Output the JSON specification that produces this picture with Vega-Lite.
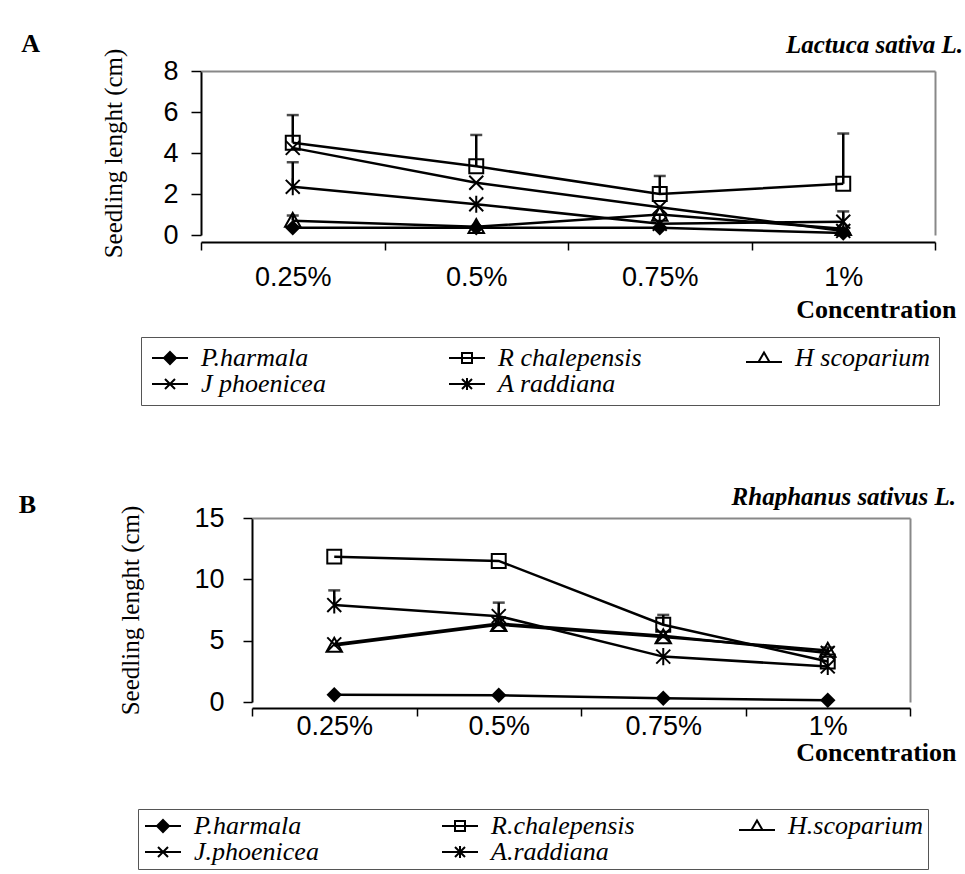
{
  "$schema": "https://vega.github.io/schema/vega-lite/v6.json",
  "background": "white",
  "padding": {"left": 18, "top": 31, "right": 5, "bottom": 5},
  "spacing": 79,
  "resolve": {"scale": {"shape": "independent", "y": "independent", "x": "independent"}, "legend": {"shape": "independent"}},
  "config": {
    "view": {"stroke": null},
    "axis": {"domainColor": "black", "domainWidth": 2, "tickColor": "black", "tickWidth": 1.5, "grid": false, "labelFont": "Liberation Sans", "labelColor": "black", "titleFont": "Liberation Serif", "titleColor": "black", "titleFontWeight": "normal"},
    "title": {"font": "Liberation Serif", "fontStyle": "italic", "fontWeight": "bold", "fontSize": 25, "color": "black", "anchor": "end", "frame": "bounds"},
    "point": {"strokeWidth": 2, "size": 240, "opacity": 1, "color": "black"}
  },
  "vconcat": [
    {
      "data": {"values": [
        {"p": "A", "c": "0.25%", "s": "P.harmala", "v": 0.35},
        {"p": "A", "c": "0.5%", "s": "P.harmala", "v": 0.35},
        {"p": "A", "c": "0.75%", "s": "P.harmala", "v": 0.35},
        {"p": "A", "c": "1%", "s": "P.harmala", "v": 0.1},
        {"p": "A", "c": "0.25%", "s": "R chalepensis", "v": 4.5, "u": 5.85},
        {"p": "A", "c": "0.5%", "s": "R chalepensis", "v": 3.35, "u": 4.88},
        {"p": "A", "c": "0.75%", "s": "R chalepensis", "v": 2.0, "u": 2.88},
        {"p": "A", "c": "1%", "s": "R chalepensis", "v": 2.5, "u": 4.95},
        {"p": "A", "c": "0.25%", "s": "H scoparium", "v": 0.7, "u": 0.95},
        {"p": "A", "c": "0.5%", "s": "H scoparium", "v": 0.4},
        {"p": "A", "c": "0.75%", "s": "H scoparium", "v": 1.0},
        {"p": "A", "c": "1%", "s": "H scoparium", "v": 0.3},
        {"p": "A", "c": "0.25%", "s": "J phoenicea", "v": 4.25},
        {"p": "A", "c": "0.5%", "s": "J phoenicea", "v": 2.55},
        {"p": "A", "c": "0.75%", "s": "J phoenicea", "v": 1.35},
        {"p": "A", "c": "1%", "s": "J phoenicea", "v": 0.2},
        {"p": "A", "c": "0.25%", "s": "A raddiana", "v": 2.35, "u": 3.55},
        {"p": "A", "c": "0.5%", "s": "A raddiana", "v": 1.5},
        {"p": "A", "c": "0.75%", "s": "A raddiana", "v": 0.55},
        {"p": "A", "c": "1%", "s": "A raddiana", "v": 0.65, "u": 1.15}
      ]},
      "title": {"text": "Lactuca sativa L.", "dx": -23, "offset": -27},
      "facet": {"row": {"field": "p", "type": "nominal", "header": {"title": null, "labelAngle": 0, "labelOrient": "left", "labelAnchor": "end", "labelAlign": "left", "labelBaseline": "line-bottom", "labelLineHeight": 54, "labelFont": "Liberation Serif", "labelFontWeight": "bold", "labelFontSize": 26, "labelColor": "black", "labelPadding": 62}}},
      "spec": {
        "width": 683,
        "height": 164,
        "resolve": {"axis": {"x": "independent", "y": "independent"}},
        "layer": [
          {"mark": {"type": "line", "color": "black", "strokeWidth": 2.5},
           "encoding": {
             "x": {"field": "c", "type": "ordinal", "sort": ["0.25%", "0.5%", "0.75%", "1%"], "scale": {"type": "band", "paddingInner": 0, "paddingOuter": 0, "range": [-51, 683]},
               "axis": {"orient": "bottom", "title": "Concentration", "titleFont": "Liberation Serif", "titleFontWeight": "bold", "titleFontSize": 26, "titleAlign": "right", "titleAnchor": "end", "titleX": 704, "titlePadding": 6, "labelFontSize": 27, "labelAngle": 0, "labelPadding": 14, "tickSize": 8, "tickBand": "extent"}},
             "y": {"field": "v", "type": "quantitative", "scale": {"domain": [0, 8], "nice": false},
               "axis": {"orient": "left", "offset": 51, "title": "Seedling lenght (cm)", "titleFontSize": 25, "titlePadding": 36, "labelFontSize": 27, "tickSize": 10, "labelPadding": 13, "values": [0, 2, 4, 6, 8]}},
             "detail": {"field": "s"}}},
          {"mark": {"type": "line", "opacity": 0},
           "encoding": {
             "x": {"field": "c", "type": "ordinal", "sort": ["0.25%", "0.5%", "0.75%", "1%"], "scale": {"type": "band", "paddingInner": 0, "paddingOuter": 0, "range": [-51, 683]}, "axis": {"orient": "top", "domainColor": "#888", "domainWidth": 2, "ticks": false, "labels": false, "title": null}},
             "y": {"field": "v", "type": "quantitative", "axis": {"orient": "right", "domainColor": "#888", "domainWidth": 2, "ticks": false, "labels": false, "title": null}},
             "detail": {"field": "s"}}},
          {"transform": [{"filter": "datum.u != null"}],
           "mark": {"type": "rule", "color": "black", "strokeWidth": 2.5},
           "encoding": {
             "x": {"field": "c", "type": "ordinal", "sort": ["0.25%", "0.5%", "0.75%", "1%"], "scale": {"type": "band", "paddingInner": 0, "paddingOuter": 0, "range": [-51, 683]}, "axis": null},
             "y": {"field": "v", "type": "quantitative", "axis": null}, "y2": {"field": "u"}}},
          {"transform": [{"filter": "datum.u != null"}],
           "mark": {"type": "tick", "color": "black", "orient": "horizontal", "size": 12, "thickness": 2.5},
           "encoding": {
             "x": {"field": "c", "type": "ordinal", "sort": ["0.25%", "0.5%", "0.75%", "1%"], "scale": {"type": "band", "paddingInner": 0, "paddingOuter": 0, "range": [-51, 683]}, "axis": null},
             "y": {"field": "u", "type": "quantitative", "axis": null}}},
          {"transform": [{"filter": "datum.s === 'P.harmala'"}],
           "mark": {"type": "point", "filled": true, "shape": "M0,-1L1,0L0,1L-1,0Z"},
           "encoding": {
             "x": {"field": "c", "type": "ordinal", "sort": ["0.25%", "0.5%", "0.75%", "1%"], "scale": {"type": "band", "paddingInner": 0, "paddingOuter": 0, "range": [-51, 683]}, "axis": null},
             "y": {"field": "v", "type": "quantitative", "axis": null}}},
          {"transform": [{"filter": "datum.s === 'R chalepensis'"}],
           "mark": {"type": "point", "filled": false, "shape": "M-0.9,-0.9H0.9V0.9H-0.9Z"},
           "encoding": {
             "x": {"field": "c", "type": "ordinal", "sort": ["0.25%", "0.5%", "0.75%", "1%"], "scale": {"type": "band", "paddingInner": 0, "paddingOuter": 0, "range": [-51, 683]}, "axis": null},
             "y": {"field": "v", "type": "quantitative", "axis": null}}},
          {"transform": [{"filter": "datum.s === 'H scoparium'"}],
           "mark": {"type": "point", "filled": false, "shape": "M0,-1L1,0.8H-1Z"},
           "encoding": {
             "x": {"field": "c", "type": "ordinal", "sort": ["0.25%", "0.5%", "0.75%", "1%"], "scale": {"type": "band", "paddingInner": 0, "paddingOuter": 0, "range": [-51, 683]}, "axis": null},
             "y": {"field": "v", "type": "quantitative", "axis": null}}},
          {"transform": [{"filter": "datum.s === 'J phoenicea'"}],
           "mark": {"type": "point", "filled": false, "shape": "M-0.9,-0.9L0.9,0.9M-0.9,0.9L0.9,-0.9"},
           "encoding": {
             "x": {"field": "c", "type": "ordinal", "sort": ["0.25%", "0.5%", "0.75%", "1%"], "scale": {"type": "band", "paddingInner": 0, "paddingOuter": 0, "range": [-51, 683]}, "axis": null},
             "y": {"field": "v", "type": "quantitative", "axis": null}}},
          {"transform": [{"filter": "datum.s === 'A raddiana'"}],
           "mark": {"type": "point", "filled": false, "shape": "M-0.9,-0.9L0.9,0.9M-0.9,0.9L0.9,-0.9M0,-1.1V1.1"},
           "encoding": {
             "x": {"field": "c", "type": "ordinal", "sort": ["0.25%", "0.5%", "0.75%", "1%"], "scale": {"type": "band", "paddingInner": 0, "paddingOuter": 0, "range": [-51, 683]}, "axis": null},
             "y": {"field": "v", "type": "quantitative", "axis": null}}},
          {"mark": {"type": "point", "filled": false, "opacity": 0},
           "encoding": {
             "x": {"field": "c", "type": "ordinal", "sort": ["0.25%", "0.5%", "0.75%", "1%"], "scale": {"type": "band", "paddingInner": 0, "paddingOuter": 0, "range": [-51, 683]}, "axis": null},
             "y": {"field": "v", "type": "quantitative", "axis": null},
             "shape": {"field": "s", "type": "nominal",
               "scale": {"domain": ["P.harmala", "R chalepensis", "H scoparium", "J phoenicea", "A raddiana"],
                 "range": ["M-1.8,0H1.8M0,-0.6L0.6,0L0,0.6L-0.6,0ZM0,-0.4L0.4,0L0,0.4L-0.4,0ZM0,-0.2L0.2,0L0,0.2L-0.2,0Z", "M-1.8,0H1.8M-0.5,-0.5H0.5V0.5H-0.5Z", "M-1.8,0.4H1.8M0,-0.55L0.55,0.4H-0.55Z", "M-1.8,0H1.8M-0.5,-0.5L0.5,0.5M-0.5,0.5L0.5,-0.5", "M-1.8,0H1.8M-0.5,-0.5L0.5,0.5M-0.5,0.5L0.5,-0.5M0,-0.6V0.6"]},
               "legend": {"orient": "none", "legendX": -111, "legendY": 266, "direction": "horizontal", "columns": 3, "title": null,
                 "symbolSize": 400, "symbolStrokeWidth": 2, "symbolStrokeColor": "black", "symbolFillColor": "transparent", "symbolOffset": 8, "symbolOpacity": 1,
                 "labelFont": "Liberation Serif", "labelFontStyle": "italic", "labelFontSize": 26, "labelColor": "black", "labelOffset": 18,
                 "strokeColor": "#555", "fillColor": "white", "padding": 8, "columnPadding": 100, "rowPadding": 0, "gridAlign": "all"}}
           }}
        ]
      }
    },
    {
      "data": {"values": [
        {"p": "B", "c": "0.25%", "s": "P.harmala", "v": 0.6},
        {"p": "B", "c": "0.5%", "s": "P.harmala", "v": 0.55},
        {"p": "B", "c": "0.75%", "s": "P.harmala", "v": 0.3},
        {"p": "B", "c": "1%", "s": "P.harmala", "v": 0.15},
        {"p": "B", "c": "0.25%", "s": "R.chalepensis", "v": 11.85},
        {"p": "B", "c": "0.5%", "s": "R.chalepensis", "v": 11.5},
        {"p": "B", "c": "0.75%", "s": "R.chalepensis", "v": 6.3, "u": 7.1},
        {"p": "B", "c": "1%", "s": "R.chalepensis", "v": 3.3},
        {"p": "B", "c": "0.25%", "s": "H.scoparium", "v": 4.6},
        {"p": "B", "c": "0.5%", "s": "H.scoparium", "v": 6.3},
        {"p": "B", "c": "0.75%", "s": "H.scoparium", "v": 5.3},
        {"p": "B", "c": "1%", "s": "H.scoparium", "v": 4.2},
        {"p": "B", "c": "0.25%", "s": "J.phoenicea", "v": 4.7},
        {"p": "B", "c": "0.5%", "s": "J.phoenicea", "v": 6.4},
        {"p": "B", "c": "0.75%", "s": "J.phoenicea", "v": 5.4},
        {"p": "B", "c": "1%", "s": "J.phoenicea", "v": 4.0, "u": 4.45},
        {"p": "B", "c": "0.25%", "s": "A.raddiana", "v": 7.9, "u": 9.1},
        {"p": "B", "c": "0.5%", "s": "A.raddiana", "v": 7.0, "u": 8.1},
        {"p": "B", "c": "0.75%", "s": "A.raddiana", "v": 3.7},
        {"p": "B", "c": "1%", "s": "A.raddiana", "v": 2.9}
      ]},
      "title": {"text": "Rhaphanus sativus L.", "offset": -18},
      "facet": {"row": {"field": "p", "type": "nominal", "header": {"title": null, "labelAngle": 0, "labelOrient": "left", "labelAnchor": "end", "labelAlign": "left", "labelBaseline": "bottom", "labelFont": "Liberation Serif", "labelFontWeight": "bold", "labelFontSize": 26, "labelColor": "black", "labelPadding": 83}}},
      "spec": {
        "width": 658,
        "height": 184,
        "resolve": {"axis": {"x": "independent", "y": "independent"}},
        "layer": [
          {"mark": {"type": "line", "color": "black", "strokeWidth": 2.5},
           "encoding": {
             "x": {"field": "c", "type": "ordinal", "sort": ["0.25%", "0.5%", "0.75%", "1%"], "scale": {"type": "band", "paddingInner": 0, "paddingOuter": 0},
               "axis": {"orient": "bottom", "title": "Concentration", "titleFont": "Liberation Serif", "titleFontWeight": "bold", "titleFontSize": 26, "titleAlign": "right", "titleAnchor": "end", "titleX": 704, "titlePadding": 0, "labelFontSize": 27, "labelAngle": 0, "labelPadding": -3, "tickSize": 8, "tickBand": "extent"}},
             "y": {"field": "v", "type": "quantitative", "scale": {"domain": [0, 15], "nice": false},
               "axis": {"orient": "left", "title": "Seedling lenght (cm)", "titleFontSize": 25, "titlePadding": 50, "labelFontSize": 27, "tickSize": 9, "labelPadding": 19, "values": [0, 5, 10, 15]}},
             "detail": {"field": "s"}}},
          {"mark": {"type": "line", "opacity": 0},
           "encoding": {
             "x": {"field": "c", "type": "ordinal", "sort": ["0.25%", "0.5%", "0.75%", "1%"], "scale": {"type": "band", "paddingInner": 0, "paddingOuter": 0}, "axis": {"orient": "top", "domainColor": "#888", "domainWidth": 2, "ticks": false, "labels": false, "title": null}},
             "y": {"field": "v", "type": "quantitative", "axis": {"orient": "right", "domainColor": "#888", "domainWidth": 2, "ticks": false, "labels": false, "title": null}},
             "detail": {"field": "s"}}},
          {"transform": [{"filter": "datum.u != null"}],
           "mark": {"type": "rule", "color": "black", "strokeWidth": 2.5},
           "encoding": {
             "x": {"field": "c", "type": "ordinal", "sort": ["0.25%", "0.5%", "0.75%", "1%"], "scale": {"type": "band", "paddingInner": 0, "paddingOuter": 0}, "axis": null},
             "y": {"field": "v", "type": "quantitative", "axis": null}, "y2": {"field": "u"}}},
          {"transform": [{"filter": "datum.u != null"}],
           "mark": {"type": "tick", "color": "black", "orient": "horizontal", "size": 12, "thickness": 2.5},
           "encoding": {
             "x": {"field": "c", "type": "ordinal", "sort": ["0.25%", "0.5%", "0.75%", "1%"], "scale": {"type": "band", "paddingInner": 0, "paddingOuter": 0}, "axis": null},
             "y": {"field": "u", "type": "quantitative", "axis": null}}},
          {"transform": [{"filter": "datum.s === 'P.harmala'"}],
           "mark": {"type": "point", "filled": true, "shape": "M0,-1L1,0L0,1L-1,0Z"},
           "encoding": {
             "x": {"field": "c", "type": "ordinal", "sort": ["0.25%", "0.5%", "0.75%", "1%"], "scale": {"type": "band", "paddingInner": 0, "paddingOuter": 0}, "axis": null},
             "y": {"field": "v", "type": "quantitative", "axis": null}}},
          {"transform": [{"filter": "datum.s === 'R.chalepensis'"}],
           "mark": {"type": "point", "filled": false, "shape": "M-0.9,-0.9H0.9V0.9H-0.9Z"},
           "encoding": {
             "x": {"field": "c", "type": "ordinal", "sort": ["0.25%", "0.5%", "0.75%", "1%"], "scale": {"type": "band", "paddingInner": 0, "paddingOuter": 0}, "axis": null},
             "y": {"field": "v", "type": "quantitative", "axis": null}}},
          {"transform": [{"filter": "datum.s === 'H.scoparium'"}],
           "mark": {"type": "point", "filled": false, "shape": "M0,-1L1,0.8H-1Z"},
           "encoding": {
             "x": {"field": "c", "type": "ordinal", "sort": ["0.25%", "0.5%", "0.75%", "1%"], "scale": {"type": "band", "paddingInner": 0, "paddingOuter": 0}, "axis": null},
             "y": {"field": "v", "type": "quantitative", "axis": null}}},
          {"transform": [{"filter": "datum.s === 'J.phoenicea'"}],
           "mark": {"type": "point", "filled": false, "shape": "M-0.9,-0.9L0.9,0.9M-0.9,0.9L0.9,-0.9"},
           "encoding": {
             "x": {"field": "c", "type": "ordinal", "sort": ["0.25%", "0.5%", "0.75%", "1%"], "scale": {"type": "band", "paddingInner": 0, "paddingOuter": 0}, "axis": null},
             "y": {"field": "v", "type": "quantitative", "axis": null}}},
          {"transform": [{"filter": "datum.s === 'A.raddiana'"}],
           "mark": {"type": "point", "filled": false, "shape": "M-0.9,-0.9L0.9,0.9M-0.9,0.9L0.9,-0.9M0,-1.1V1.1"},
           "encoding": {
             "x": {"field": "c", "type": "ordinal", "sort": ["0.25%", "0.5%", "0.75%", "1%"], "scale": {"type": "band", "paddingInner": 0, "paddingOuter": 0}, "axis": null},
             "y": {"field": "v", "type": "quantitative", "axis": null}}},
          {"mark": {"type": "point", "filled": false, "opacity": 0},
           "encoding": {
             "x": {"field": "c", "type": "ordinal", "sort": ["0.25%", "0.5%", "0.75%", "1%"], "scale": {"type": "band", "paddingInner": 0, "paddingOuter": 0}, "axis": null},
             "y": {"field": "v", "type": "quantitative", "axis": null},
             "shape": {"field": "s", "type": "nominal",
               "scale": {"domain": ["P.harmala", "R.chalepensis", "H.scoparium", "J.phoenicea", "A.raddiana"],
                 "range": ["M-1.8,0H1.8M0,-0.6L0.6,0L0,0.6L-0.6,0ZM0,-0.4L0.4,0L0,0.4L-0.4,0ZM0,-0.2L0.2,0L0,0.2L-0.2,0Z", "M-1.8,0H1.8M-0.5,-0.5H0.5V0.5H-0.5Z", "M-1.8,0.4H1.8M0,-0.55L0.55,0.4H-0.55Z", "M-1.8,0H1.8M-0.5,-0.5L0.5,0.5M-0.5,0.5L0.5,-0.5", "M-1.8,0H1.8M-0.5,-0.5L0.5,0.5M-0.5,0.5L0.5,-0.5M0,-0.6V0.6"]},
               "legend": {"orient": "none", "legendX": -114, "legendY": 291, "direction": "horizontal", "columns": 3, "title": null,
                 "symbolSize": 400, "symbolStrokeWidth": 2, "symbolStrokeColor": "black", "symbolFillColor": "transparent", "symbolOffset": 8, "symbolOpacity": 1,
                 "labelFont": "Liberation Serif", "labelFontStyle": "italic", "labelFontSize": 26, "labelColor": "black", "labelOffset": 18,
                 "strokeColor": "#555", "fillColor": "white", "padding": 4, "columnPadding": 100, "rowPadding": -3, "gridAlign": "all"}}
           }}
        ]
      }
    }
  ]
}
